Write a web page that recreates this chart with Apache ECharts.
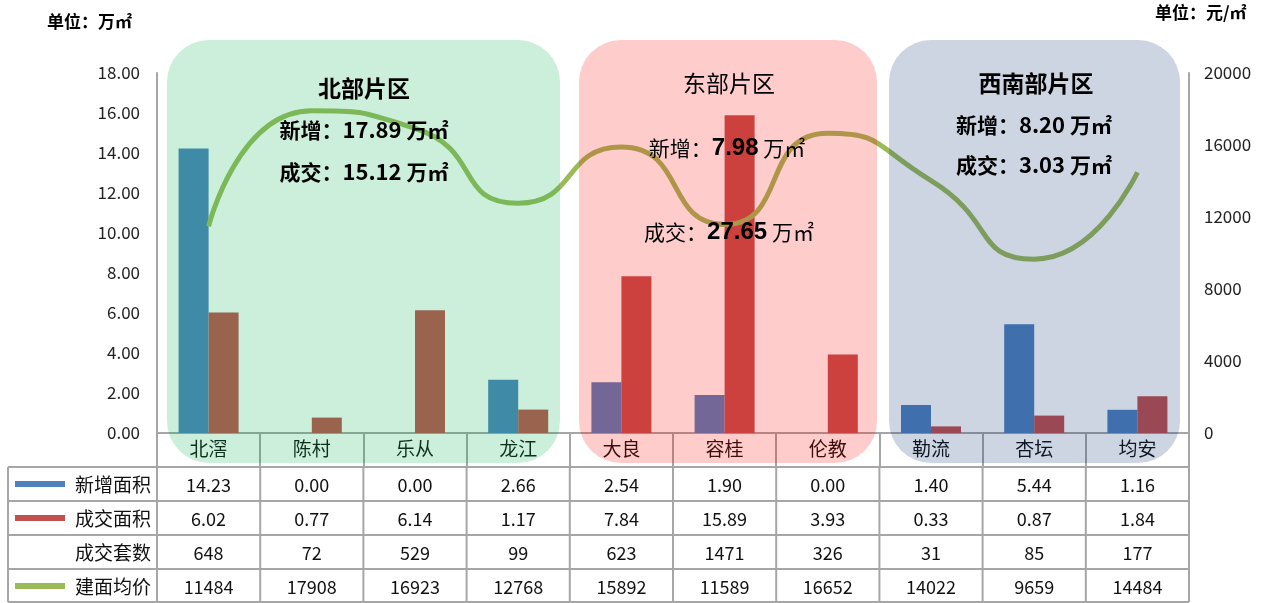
<!DOCTYPE html>
<html><head><meta charset="utf-8">
<script src="https://cdn.jsdelivr.net/npm/echarts@6/dist/echarts.min.js"></script>
<style>html,body{margin:0;padding:0;background:#fff}#c{width:1272px;height:603px}</style>
</head><body><div id="c"></div>
<script>
const categories = ['北滘','陈村','乐从','龙江','大良','容桂','伦教','勒流','杏坛','均安'];
const newArea   = [14.23,0.00,0.00,2.66,2.54,1.90,0.00,1.40,5.44,1.16];
const dealArea  = [6.02,0.77,6.14,1.17,7.84,15.89,3.93,0.33,0.87,1.84];
const dealUnits = [648,72,529,99,623,1471,326,31,85,177];
const avgPrice  = [11484,17908,16923,12768,15892,11589,16652,14022,9659,14484];
const leftTicks = [0,2,4,6,8,10,12,14,16,18];
const rightTicks = [0,4000,8000,12000,16000,20000];
const rowNames = ['新增面积','成交面积','成交套数','建面均价'];
const rowColors = ['#4F81BD','#C0504D',null,'#9BBB59'];

const FONT = '"Noto Sans CJK SC", "Noto Sans", sans-serif';
const chart = echarts.init(document.getElementById('c'), null, {renderer:'canvas'});
const GRID = {left:157, right:83, top:73, bottom:170};

chart.setOption({
  animation:false,
  textStyle:{fontFamily:FONT},
  grid:GRID,
  xAxis:{type:'category', data:categories,
    axisLine:{lineStyle:{color:'#A6A6A6', width:2}},
    axisTick:{show:true, length:34, lineStyle:{color:'#A6A6A6', width:2}},
    axisLabel:{fontSize:19, color:'#111', margin:6, fontFamily:FONT}},
  yAxis:[
    {type:'value', min:leftTicks[0], max:leftTicks[leftTicks.length-1], interval:leftTicks[1]-leftTicks[0],
     splitLine:{show:false}, axisLine:{show:true, lineStyle:{color:'#A6A6A6', width:2}}, axisTick:{show:false},
     axisLabel:{formatter:v=>v.toFixed(2), fontSize:17, color:'#222', margin:17, fontFamily:FONT}},
    {type:'value', min:rightTicks[0], max:rightTicks[rightTicks.length-1], interval:rightTicks[1]-rightTicks[0],
     splitLine:{show:false}, axisLine:{show:true, lineStyle:{color:'#A6A6A6', width:2}}, axisTick:{show:false},
     axisLabel:{formatter:v=>String(v), fontSize:17, color:'#222', margin:15, fontFamily:FONT}}
  ],
  series:[
    {name:'新增面积', type:'bar', data:newArea, barWidth:30, barGap:'0%', itemStyle:{color:'#4F81BD'}},
    {name:'成交面积', type:'bar', data:dealArea, barWidth:30, barGap:'0%', itemStyle:{color:'#C0504D'}},
    {name:'建面均价', type:'line', yAxisIndex:1, data:avgPrice, smooth:0.6, symbol:'none',
     lineStyle:{color:'#9BBB59', width:5}}
  ]
});

const centers = categories.map((c,i)=>chart.convertToPixel({xAxisIndex:0}, i));
const half = (centers[1]-centers[0])/2;
const x0 = 8, xL = centers[0]-half, xR = centers[centers.length-1]+half;
const rowTop = 467, rowH = 34;
const g = [];
const lineStyle = {stroke:'#A6A6A6', lineWidth:2};
for (let r=0; r<=4; r++) {
  const y = Math.min(rowTop + r*rowH, 602);
  g.push({type:'line', shape:{x1:x0, y1:y, x2:xR, y2:y}, style:lineStyle, z:50});
}
const vx = [x0, xL].concat(centers.map(c=>c+half));
vx.forEach(x=>g.push({type:'line', shape:{x1:x, y1:rowTop, x2:x, y2:602}, style:lineStyle, z:50}));
const rows = [newArea.map(v=>v.toFixed(2)), dealArea.map(v=>v.toFixed(2)), dealUnits.map(String), avgPrice.map(String)];
rows.forEach((vals,r)=>{
  const yc = rowTop + r*rowH + rowH/2 + 1;
  g.push({type:'text', x:151, y:yc, style:{text:rowNames[r], align:'right', verticalAlign:'middle', font:'19px '+FONT, fill:'#111'}, z:60});
  if (rowColors[r]) g.push({type:'rect', shape:{x:15, y:yc-4, width:50, height:6}, style:{fill:rowColors[r]}, z:60});
  vals.forEach((v,i)=>g.push({type:'text', x:centers[i], y:yc, style:{text:v, align:'center', verticalAlign:'middle', font:'18px '+FONT, fill:'#111'}, z:60}));
});
// region overlays
const regions = [
  {x:167, w:393, fill:'rgba(0,176,80,0.2)'},
  {x:579, w:298, fill:'rgba(255,0,0,0.2)'},
  {x:889, w:291, fill:'rgba(5,40,110,0.2)'}
];
regions.forEach(rg=>g.push({type:'rect', shape:{x:rg.x, y:40, width:rg.w, height:423, r:42}, style:{fill:rg.fill}, z:100}));
const boldLine = (x,y,label,num)=>g.push({type:'text', x:x, y:y, z:120, style:{align:'center', verticalAlign:'middle',
  text:'{a|'+label+'}{n|'+num+' }{a|万㎡}', rich:{a:{font:'bold 21px '+FONT, fill:'#000'}, n:{font:'bold 22px '+FONT, fill:'#000'}}}});
const title = (x,y,text,font)=>g.push({type:'text', x:x, y:y, z:120, style:{text:text, font:font, fill:'#000', align:'center', verticalAlign:'middle'}});
title(364, 88, '北部片区', 'bold 23px '+FONT);
boldLine(364, 130, '新增：', '17.89');
boldLine(364, 172, '成交：', '15.12');
title(1036, 83, '西南部片区', 'bold 23px '+FONT);
boldLine(1034, 125, '新增：', '8.20');
boldLine(1034, 165, '成交：', '3.03');
title(729, 83, '东部片区', '23px '+FONT);
const eastLine = (x,y,label,num)=>g.push({type:'text', x:x, y:y, z:120, style:{align:'center', verticalAlign:'middle',
  text:'{a|'+label+'}{b|'+num+'}{a| 万㎡}', rich:{a:{font:'21px '+FONT, fill:'#000'}, b:{font:'bold 24px "Liberation Sans", Arial, sans-serif', fill:'#000'}}}});
eastLine(727, 148, '新增：', '7.98');
eastLine(729, 232, '成交：', '27.65');
g.push({type:'text', x:47, y:22, z:120, style:{text:'单位：万㎡', font:'bold 17px '+FONT, fill:'#000', verticalAlign:'middle'}});
g.push({type:'text', x:1155, y:13, z:120, style:{text:'单位：元/㎡', font:'bold 17px '+FONT, fill:'#000', verticalAlign:'middle'}});
chart.setOption({graphic:g});
</script></body></html>
